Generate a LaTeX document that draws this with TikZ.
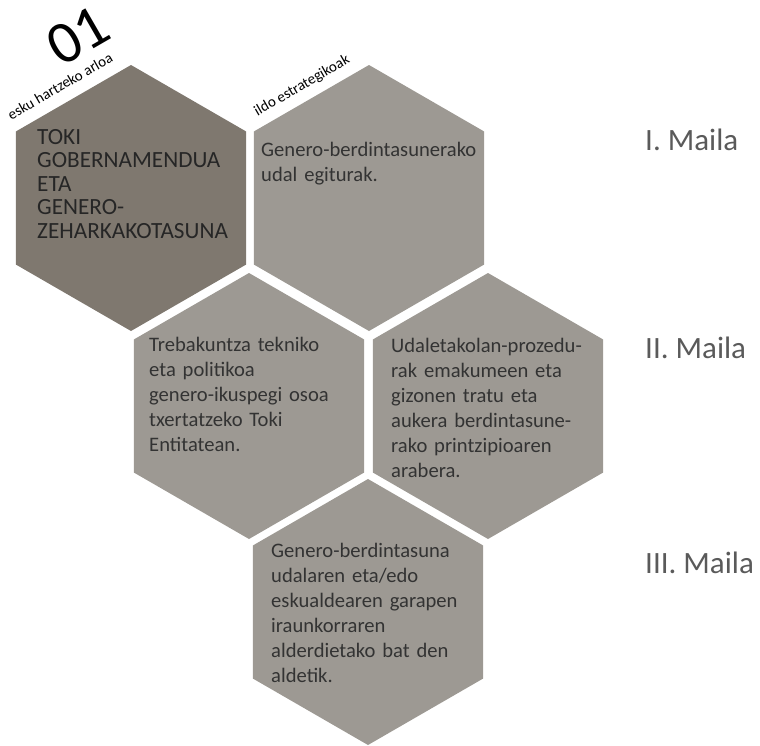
\documentclass[tikz,border=0pt]{standalone}
\usepackage{fontspec}
\setmainfont{Carlito}
\usetikzlibrary{shapes.geometric}
\definecolor{hexdark}{HTML}{7F786F}
\definecolor{hexlight}{HTML}{9D9993}
\definecolor{inkgray}{HTML}{333333}
\definecolor{levelgray}{HTML}{5A5A5A}

\begin{document}
\begin{tikzpicture}[x = 1pt, y = -1pt,
        hexagon/.style = {regular polygon, regular polygon sides = 6, shape border rotate = 30,
            minimum size = 266pt, inner sep = 0pt, fill = #1},
        hexagon/.default = hexlight,
        hextext/.style = {anchor = base west, text width = 225pt, inner sep = 0pt, align = left,
            text = inkgray, font = \fontsize{20.6}{25}\selectfont},
        level/.style = {anchor = base west, inner sep = 0pt, text = levelgray,
            font = \fontsize{31}{37}\selectfont},
        tag/.style = {rotate = 30, inner sep = 0pt, font = \fontsize{15}{18}\selectfont}]
    \useasboundingbox (0,0) rectangle (760,745);

    % Draw the honeycomb:
    \node [hexagon = hexdark] (Area)  at (131,198) {};
    \node [hexagon]           (LineA) at (369,198) {};
    \node [hexagon]           (LineB) at (249,406) {};
    \node [hexagon]           (LineC) at (488,406) {};
    \node [hexagon]           (LineD) at (368,612) {};

    % Draw the cell texts:
    \node [hextext, text = black!85, font = \fontsize{23.2}{23.6}\selectfont] (AreaText) at (37,144)
        {TOKI\\GOBERNAMENDUA\\ETA\\GENERO-\\ZEHARKAKOTASUNA};
    \node [hextext] (LineAText) at (261,156) {Genero-berdintasunerako\\udal egiturak.};
    \node [hextext] (LineBText) at (149,351)
        {Trebakuntza tekniko\\eta politikoa\\genero-ikuspegi osoa\\txertatzeko Toki\\Entitatean.};
    \node [hextext] (LineCText) at (391,352)
        {Udaletakolan-prozedu-\\rak emakumeen eta\\gizonen tratu eta\\aukera berdintasune-\\rako printzipioaren\\arabera.};
    \node [hextext] (LineDText) at (271,557)
        {Genero-berdintasuna\\udalaren eta/edo\\eskualdearen garapen\\iraunkorraren\\alderdietako bat den\\aldetik.};

    % Draw the edge tags:
    \node [rotate = 30, inner sep = 0pt, font = \fontsize{60}{70}\selectfont] (AreaNum) at (78,36) {01};
    \node [tag] (AreaTag)  at (60,86)  {esku hartzeko arloa};
    \node [tag] (LineTag)  at (302,86) {ildo estrategikoak};

    % Draw the levels:
    \node [level] (LevelI)   at (645,150) {I. Maila};
    \node [level] (LevelII)  at (645,358) {II. Maila};
    \node [level] (LevelIII) at (645,573) {III. Maila};
\end{tikzpicture}
\end{document}
